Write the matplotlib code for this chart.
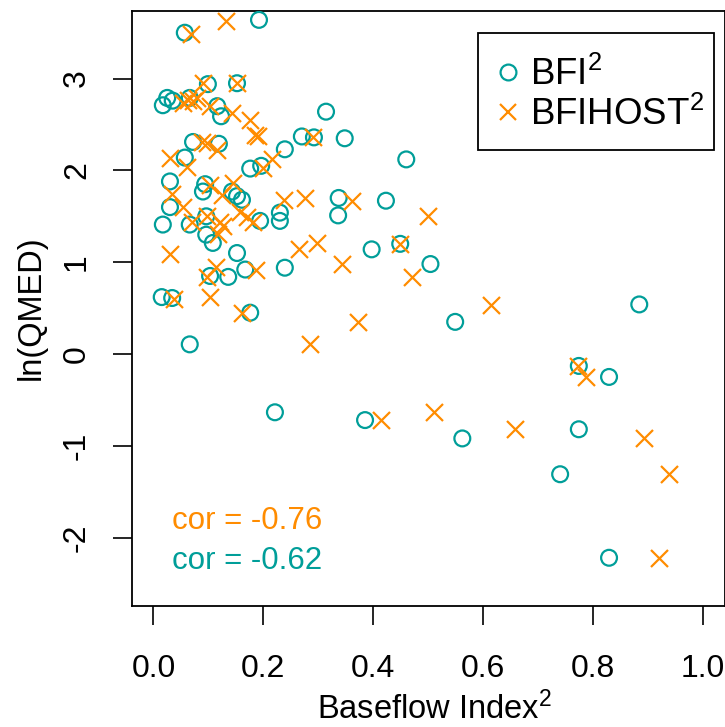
import matplotlib
matplotlib.use("Agg")
import matplotlib.pyplot as plt
from matplotlib.patches import Rectangle
from matplotlib.lines import Line2D

# BFI^2 against ln(QMED), one entry per catchment
bfi_sq = [0.192, 0.057, 0.099, 0.152, 0.017, 0.025, 0.035, 0.066, 0.116, 0.123,
          0.314, 0.072, 0.119, 0.270, 0.292, 0.348, 0.239, 0.057, 0.460, 0.176,
          0.196, 0.030, 0.094, 0.090, 0.143, 0.152, 0.161, 0.030, 0.337, 0.423,
          0.017, 0.066, 0.096, 0.194, 0.230, 0.230, 0.336, 0.096, 0.108, 0.152,
          0.397, 0.449, 0.167, 0.239, 0.103, 0.136, 0.504, 0.015, 0.034, 0.176,
          0.066, 0.549, 0.884, 0.774, 0.829, 0.221, 0.385, 0.562, 0.774, 0.740,
          0.829]
ln_qmed_bfi = [3.64, 3.50, 2.94, 2.95, 2.71, 2.79, 2.76, 2.79, 2.70, 2.59,
               2.64, 2.31, 2.29, 2.37, 2.36, 2.35, 2.23, 2.14, 2.12, 2.02,
               2.05, 1.88, 1.85, 1.77, 1.77, 1.72, 1.68, 1.60, 1.70, 1.67,
               1.41, 1.41, 1.50, 1.45, 1.54, 1.45, 1.51, 1.30, 1.21, 1.10,
               1.14, 1.20, 0.92, 0.94, 0.85, 0.84, 0.98, 0.62, 0.61, 0.45,
               0.105, 0.35, 0.54, -0.13, -0.25, -0.635, -0.72, -0.92, -0.82, -1.31,
               -2.22]

# BFIHOST^2 against ln(QMED)
bfihost_sq = [0.132, 0.068, 0.090, 0.152, 0.054, 0.063, 0.072, 0.079, 0.103, 0.143,
              0.176, 0.185, 0.190, 0.290, 0.088, 0.097, 0.116, 0.030, 0.061, 0.216,
              0.199, 0.145, 0.103, 0.125, 0.034, 0.054, 0.157, 0.170, 0.070, 0.097,
              0.121, 0.126, 0.117, 0.181, 0.237, 0.276, 0.361, 0.500, 0.030, 0.114,
              0.097, 0.187, 0.265, 0.298, 0.449, 0.343, 0.470, 0.103, 0.037, 0.161,
              0.285, 0.372, 0.614, 0.773, 0.787, 0.511, 0.414, 0.893, 0.658, 0.938,
              0.920]
ln_qmed_bfihost = [3.63, 3.49, 2.95, 2.95, 2.73, 2.77, 2.76, 2.79, 2.70, 2.63,
                   2.55, 2.39, 2.37, 2.36, 2.31, 2.30, 2.22, 2.14, 2.04, 2.12,
                   2.03, 1.86, 1.84, 1.73, 1.74, 1.60, 1.545, 1.49, 1.44, 1.50,
                   1.44, 1.39, 1.31, 1.44, 1.68, 1.70, 1.67, 1.50, 1.09, 0.95,
                   0.84, 0.92, 1.14, 1.21, 1.20, 0.98, 0.84, 0.62, 0.60, 0.45,
                   0.105, 0.35, 0.53, -0.13, -0.25, -0.635, -0.72, -0.92, -0.82, -1.31,
                   -2.22]

x_ticks = [0.0, 0.2, 0.4, 0.6, 0.8, 1.0]
x_tick_labels = ["0.0", "0.2", "0.4", "0.6", "0.8", "1.0"]
y_ticks = [-2, -1, 0, 1, 2, 3]
y_tick_labels = ["-2", "-1", "0", "1", "2", "3"]
cor_bfihost = "cor = -0.76"
cor_bfi = "cor = -0.62"

teal = "#009E99"
orange = "#FF8C00"

plt.rcParams['font.family'] = ['Liberation Sans', 'DejaVu Sans']
plt.rcParams['mathtext.fontset'] = 'custom'
plt.rcParams['mathtext.rm'] = 'Liberation Sans'
plt.rcParams['mathtext.it'] = 'Liberation Sans:italic'
plt.rcParams['mathtext.bf'] = 'Liberation Sans:bold'

W, H = 725, 727
fig = plt.figure(figsize=(W / 100, H / 100), dpi=100)


def fx(px):
    return px / W


def fy(py):
    return 1 - py / H


left, right, top, bottom = 131.5, 725.0, 10.7, 605.5
ax = fig.add_axes([fx(left), fy(bottom), fx(right) - fx(left), fy(top) - fy(bottom)])

circle_style = dict(s=130, facecolors='none', edgecolors=teal, linewidths=1.6)
cross_style = dict(s=150, marker='x', color=orange, linewidths=1.6)
ax.scatter(bfi_sq, ln_qmed_bfi, zorder=3, **circle_style)
ax.scatter(bfihost_sq, ln_qmed_bfihost, zorder=4, **cross_style)

ax.set_xlim(-0.04, 1.04)
ax.set_ylim(-2.74, 3.74)
ax.set_xticks(x_ticks)
ax.set_xticklabels(x_tick_labels)
ax.set_yticks(y_ticks)
ax.set_yticklabels(y_tick_labels, rotation=90, va='center')
ax.tick_params(direction='out', length=13.7, width=1.2, labelsize=23)
ax.tick_params(axis='x', pad=21.5)
ax.tick_params(axis='y', pad=14.7)
for sp in ax.spines.values():
    sp.set_linewidth(1.3)

# axis titles
fs_lab = 23.5
em = fs_lab * 100 / 72
fig.text(fx(435), fy(719.5), 'Baseflow Index$^2$', fontsize=fs_lab,
         ha='center', va='baseline')
fig.text(fx(28 + 0.358 * em), fy(308), 'ln(QMED)', fontsize=fs_lab, rotation=90,
         rotation_mode='anchor', ha='center', va='baseline')

# correlation notes
ax.text(0.034, -1.912, cor_bfihost, color=orange, fontsize=22.5, ha='left', va='baseline')
ax.text(0.034, -2.337, cor_bfi, color=teal, fontsize=22.5, ha='left', va='baseline')

# legend box
fs_leg = 26.4
em_leg = fs_leg * 100 / 72
fig.add_artist(Rectangle((fx(478), fy(150)), fx(714) - fx(478), fy(33) - fy(150),
                         transform=fig.transFigure, fill=False, ec='black', lw=1.3))
fig.add_artist(Line2D([fx(508)], [fy(72)], transform=fig.transFigure, marker='o',
                      ms=11.4, mfc='none', mec=teal, mew=1.6, ls='none'))
fig.add_artist(Line2D([fx(508)], [fy(112)], transform=fig.transFigure, marker='x',
                      ms=12.2, color=orange, mew=1.6, ls='none'))
fig.text(fx(530), fy(72 + 0.358 * em_leg), 'BFI$^2$', fontsize=fs_leg, va='baseline')
fig.text(fx(530), fy(112 + 0.358 * em_leg), 'BFIHOST$^2$', fontsize=fs_leg, va='baseline')

fig.savefig('out.png', dpi=100)
